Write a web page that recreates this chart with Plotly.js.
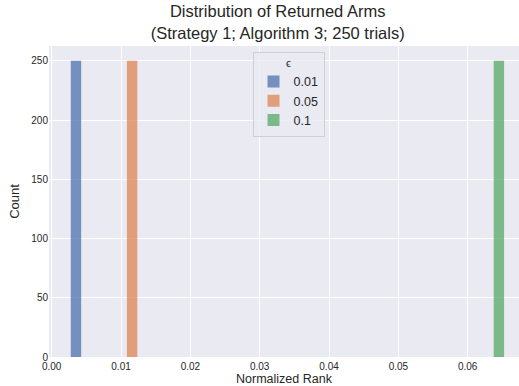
<!DOCTYPE html>
<html>
<head>
<meta charset="utf-8">
<script src="https://cdn.plot.ly/plotly-3.0.1.min.js"></script>
<style>html,body{margin:0;padding:0;background:#fff;}#chart{width:519px;height:386px;}</style>
</head>
<body>
<div id="chart"></div>
<script>
// Data
const epsilonLabels = ["0.01", "0.05", "0.1"];
const normalizedRank = [0.0035, 0.0116, 0.0645];
const counts = [250, 250, 250];
const binWidth = 0.0015;
const colors = ["rgba(76,114,176,0.75)", "rgba(221,132,82,0.75)", "rgba(85,168,104,0.75)"];

const traces = epsilonLabels.map((lab, i) => ({
  type: "bar",
  name: lab,
  x: [normalizedRank[i]],
  y: [counts[i]],
  width: binWidth,
  marker: {color: colors[i], line: {width: 0}},
  hoverinfo: "x+y"
}));

const font = "Liberation Sans, Arial, sans-serif";
const layout = {
  width: 519, height: 386,
  margin: {l: 49, r: 0, t: 46, b: 29},
  paper_bgcolor: "#ffffff",
  plot_bgcolor: "#eaeaf2",
  font: {family: font, color: "#262626"},
  title: {
    text: "Distribution of Returned Arms<br>(Strategy 1; Algorithm 3; 250 trials)",
    font: {size: 16.5, family: font, color: "#262626"},
    x: 0.535, xanchor: "center", yref: "container", y: 0.955, yanchor: "top"
  },
  barmode: "overlay",
  showlegend: true,
  legend: {
    x: 0.433, y: 0.982, xanchor: "left", yanchor: "top",
    bgcolor: "rgba(234,234,242,0.8)", bordercolor: "#cfcfd6", borderwidth: 1,
    font: {size: 12.5, family: font, color: "#262626"},
    title: {text: "ϵ", side: "top center", font: {size: 11, family: font}},
    itemwidth: 30, tracegroupgap: 0
  },
  xaxis: {
    range: [-0.00039, 0.0674],
    dtick: 0.01, tick0: 0, tickformat: ".2f",
    showgrid: true, gridcolor: "#ffffff", gridwidth: 1,
    zeroline: false, showline: false, ticks: "",
    ticklabelstandoff: 2,
    tickfont: {size: 10, family: font, color: "#262626"},
    title: {text: "Normalized Rank", font: {size: 12.5, family: font, color: "#262626"}, standoff: 2}
  },
  yaxis: {
    range: [0, 262.5],
    dtick: 50, tick0: 0,
    showgrid: true, gridcolor: "#ffffff", gridwidth: 1,
    zeroline: false, showline: false, ticks: "",
    tickfont: {size: 10, family: font, color: "#262626"},
    title: {text: "Count", font: {size: 13, family: font, color: "#262626"}, standoff: 8}
  }
};

Plotly.newPlot("chart", traces, layout, {displayModeBar: false, staticPlot: true});
</script>
</body>
</html>
